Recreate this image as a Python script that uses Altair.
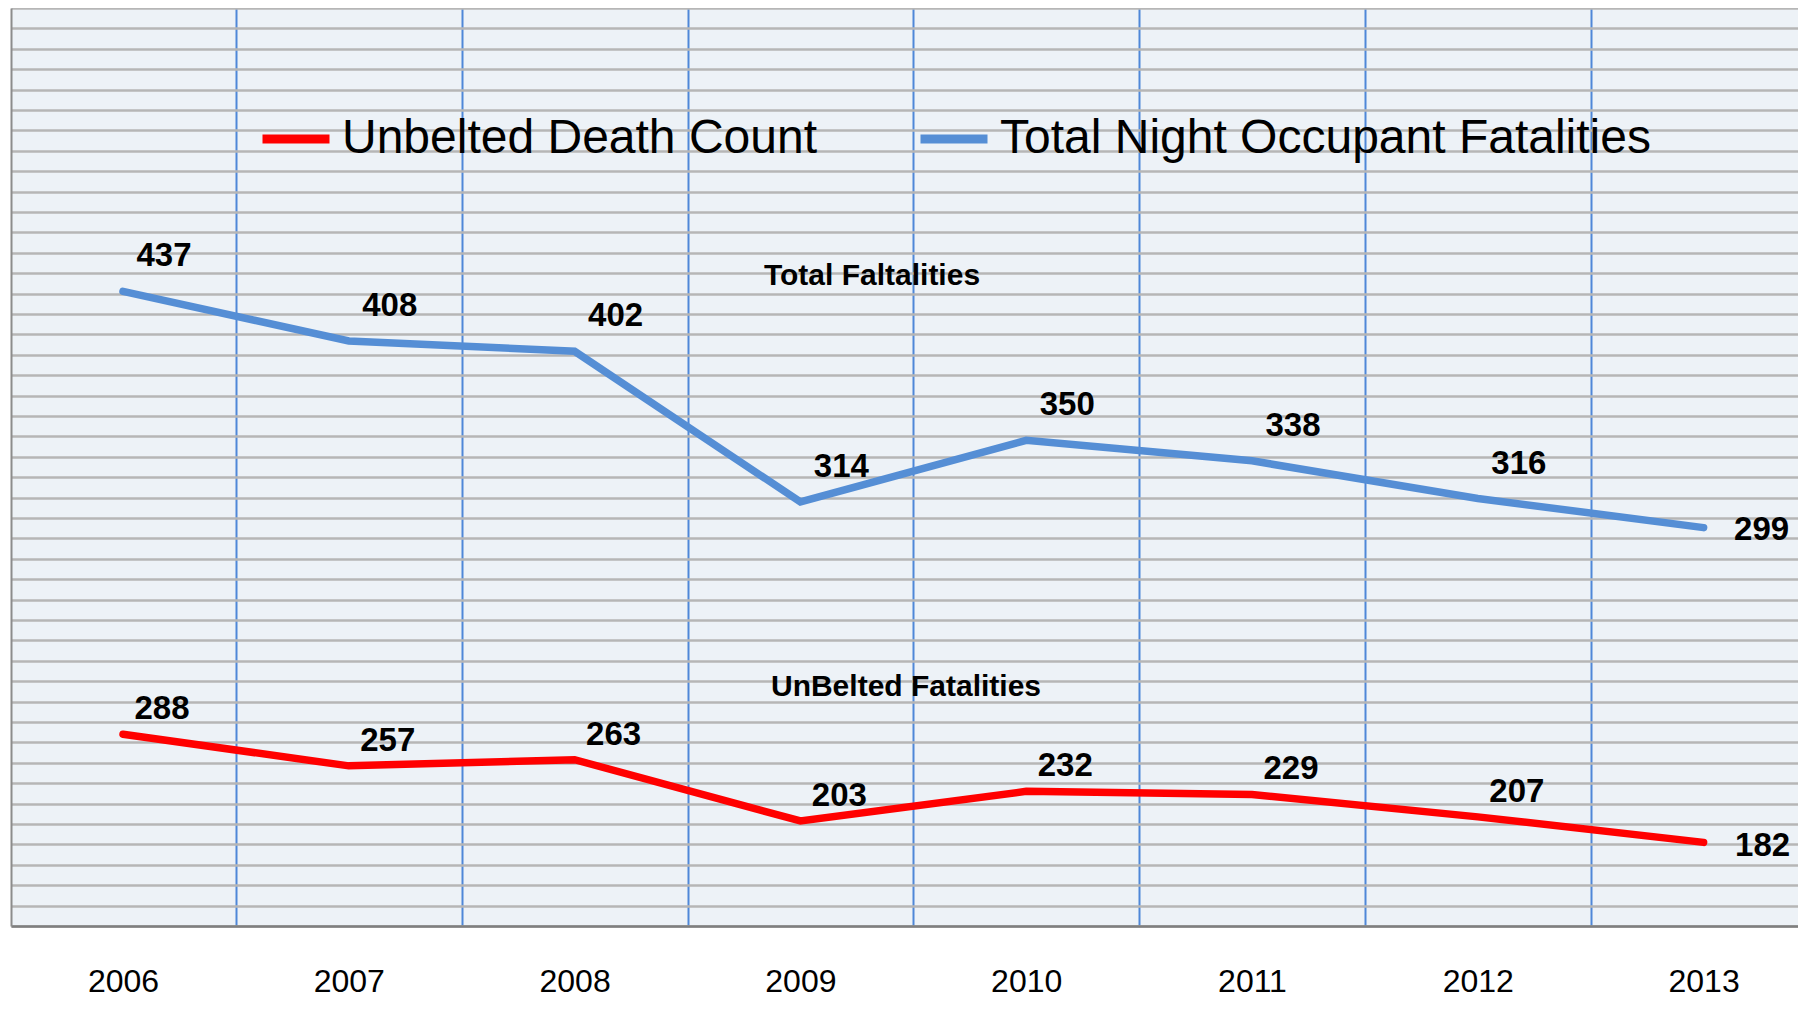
import altair as alt
import pandas as pd

years = [2006, 2007, 2008, 2009, 2010, 2011, 2012, 2013]
unbelted = [288, 257, 263, 203, 232, 229, 207, 182]
total_night = [437, 408, 402, 314, 350, 338, 316, 299]
series_names = ["Unbelted Death Count", "Total Night Occupant Fatalities"]
series_colors = ["#FF0000", "#558ED5"]
annotations = ["Total Faltalities", "UnBelted Fatalities"]

df = pd.DataFrame({
    "year": years * 2,
    "value": unbelted + total_night,
    "series": [series_names[0]] * len(years) + [series_names[1]] * len(years),
})

FONT = "Liberation Sans"
PLOT_W, PLOT_H = 1787, 918
last_year = years[-1]
half_years = [y + 0.5 for y in years[:-1]]

x_scale = alt.Scale(domain=[2005.504, 2013.418], nice=False, zero=False)

# vertical (blue) gridlines between the years
x_grid = alt.X(
    "year:Q", scale=x_scale,
    axis=alt.Axis(values=half_years, labels=False, ticks=False, domain=False, title=None,
                  grid=True, gridColor="#4F87D8", gridWidth=2, orient="bottom"),
)
# year labels + bottom axis line
x_lab = alt.X(
    "year:Q", scale=x_scale,
    axis=alt.Axis(values=years, format="d", title=None, ticks=False, grid=False,
                  domain=True, domainColor="#7F7F7F", domainWidth=2.5,
                  labelFont=FONT, labelFontSize=32, labelColor="black",
                  labelBaseline="alphabetic", labelPadding=65,
                  labelFlush=False, labelOverlap=False, orient="bottom"),
)

y_red = alt.Y(
    "value:Q",
    scale=alt.Scale(domain=[100, 1000], nice=False, zero=False),
    axis=alt.Axis(values=list(range(100, 1001, 20)), labels=False, ticks=False, title=None,
                  domain=True, domainColor="#8C8C8C", domainWidth=2,
                  grid=True, gridColor="#B6B6B6", gridWidth=2.5),
)
y_blue = alt.Y("value:Q", scale=alt.Scale(domain=[66.3, 602.5], nice=False, zero=False), axis=None)

color_enc = alt.Color(
    "series:N",
    scale=alt.Scale(domain=series_names, range=series_colors),
    legend=alt.Legend(
        title=None, orient="none", direction="horizontal", legendX=247, legendY=93,
        symbolType="stroke", symbolSize=4489, symbolStrokeWidth=9,
        labelFont=FONT, labelFontSize=48, labelColor="black", labelOffset=8,
        columnPadding=85, padding=0, labelLimit=1200,
    ),
)


def series_layer(name, x_enc, y_enc, dx, dy, dx_last, dy_last):
    base = alt.Chart(df).transform_filter(alt.datum.series == name)
    line = base.mark_line(strokeWidth=7.5, strokeCap="round").encode(x=x_enc, y=y_enc, color=color_enc)
    txt_kw = dict(font=FONT, fontSize=33, fontWeight="bold", color="black", align="center", baseline="middle")
    lbl = base.transform_filter(f"datum.year < {last_year}").mark_text(dx=dx, dy=dy, **txt_kw).encode(
        x=x_enc, y=y_enc, text="value:Q")
    lbl_last = base.transform_filter(f"datum.year == {last_year}").mark_text(dx=dx_last, dy=dy_last, **txt_kw).encode(
        x=x_enc, y=y_enc, text="value:Q")
    return alt.layer(line, lbl, lbl_last)


red_layer = series_layer(series_names[0], x_grid, y_red, 39, -25, 59, 4)
blue_layer = series_layer(series_names[1], x_lab, y_blue, 41, -35, 58, 2)

ann_kw = dict(font=FONT, fontSize=30, fontWeight="bold", color="black", align="center", baseline="middle")
ann1 = alt.Chart(pd.DataFrame({"t": [annotations[0]]})).mark_text(**ann_kw).encode(
    text="t:N", x=alt.value(861), y=alt.value(268))
ann2 = alt.Chart(pd.DataFrame({"t": [annotations[1]]})).mark_text(**ann_kw).encode(
    text="t:N", x=alt.value(895), y=alt.value(679))

chart = (
    alt.layer(red_layer, blue_layer, ann1, ann2)
    .resolve_scale(y="independent")
    .resolve_axis(x="independent")
    .properties(
        width=PLOT_W, height=PLOT_H,
        padding={"left": 3, "top": 0, "right": 0, "bottom": 74},
        autosize=alt.AutoSizeParams(type="none"),
    )
    .configure_view(fill="#EDF2F7", stroke=None)
)

chart.save("out.html", embed_options={"renderer": "svg", "actions": False})
